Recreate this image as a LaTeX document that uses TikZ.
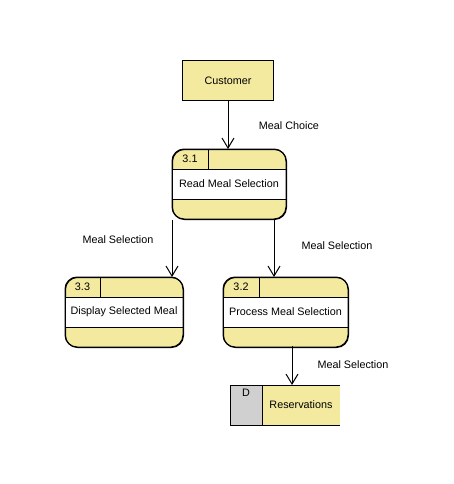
\documentclass[tikz,border=0pt]{standalone}
\usepackage{fontspec}
\setmainfont{Liberation Sans}
\usetikzlibrary{arrows.meta,calc}
\definecolor{dfdyellow}{RGB}{243,234,160}
\definecolor{dfdgray}{RGB}{208,208,208}
\newcommand\dfdproc[7]{% name, left, top, right, divider, number, text
  \node[proc, anchor=north west, minimum width={#4-#2}, minimum height=70pt] (#1) at (#2,#3) {};
  \draw[fill=white] (#2,#3+20) rectangle (#4,#3+50);
  \draw (#5,#3) -- (#5,#3+20);
  \node[lbl] (#1num) at ({(#2+#5)/2},#3+10) {#6};
  \node[lbl] (#1txt) at ({(#2+#4)/2},#3+35) {#7};
  \draw[proc, fill=none] (#2,#3) rectangle (#4,#3+70);
}
\begin{document}
\begin{tikzpicture}[x=1pt,y=-1pt,line width=1pt,
  font=\fontsize{10.8}{12}\selectfont,
  ent/.style={draw, fill=dfdyellow, minimum width=91pt, minimum height=40pt, inner sep=0},
  proc/.style={draw, fill=dfdyellow, rounded corners=12pt, inner sep=0},
  flow/.style={-{Straight Barb[length=10pt,width=12pt]}},
  lbl/.style={inner sep=0}]
\useasboundingbox (0,0) rectangle (454,484);
% external entity
\node[ent] (cust) at (228,81) {Customer};
% processes
\dfdproc{p31}{172}{149}{286}{208}{3.1}{Read Meal Selection}
\dfdproc{p33}{65}{277}{183}{100}{3.3}{Display Selected Meal}
\dfdproc{p32}{223}{277}{348}{259}{3.2}{Process Meal Selection}
% data store
\fill[dfdyellow] (230,385) rectangle (340,425);
\fill[dfdgray] (230,385) rectangle (262,425);
\draw (340,385) -- (230,385) -- (230,425) -- (340,425);
\draw (262,385) -- (262,425);
\node[lbl] (storeid) at (246,393) {D};
\node[lbl] (store) at (301,405) {Reservations};
\coordinate (storetop) at (292,385);
% flows
\draw[flow] (cust.south) -- (cust.south |- p31.north);
\draw[flow] (p31.south west) -- (p31.south west |- p33.north);
\coordinate (p31r) at (274,219);
\draw[flow] (p31r) -- (p31r |- p32.north);
\coordinate (p32b) at (292,346);
\draw[flow] (p32b) -- (storetop);
% flow labels
\node[lbl] (l1) at (289,126) {Meal Choice};
\node[lbl] (l2) at (118,240) {Meal Selection};
\node[lbl] (l3) at (337,246) {Meal Selection};
\node[lbl] (l4) at (353,365) {Meal Selection};
\end{tikzpicture}
\end{document}
